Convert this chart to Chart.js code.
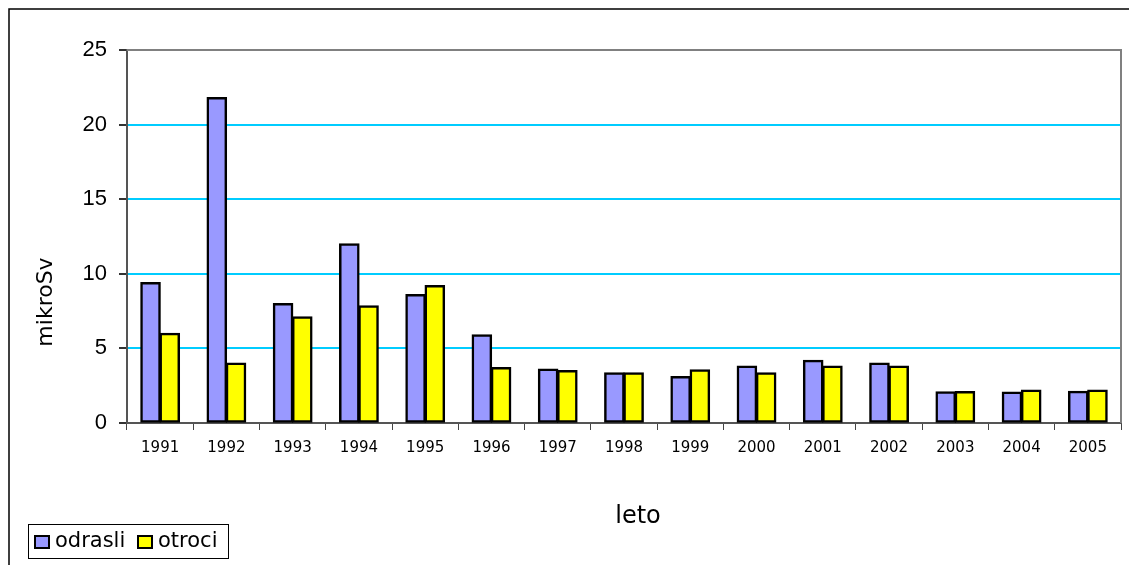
<!DOCTYPE html>
<html>
<head>
<meta charset="utf-8">
<script src="https://cdn.jsdelivr.net/npm/chart.js@4/dist/chart.umd.min.js"></script>
<style>
  html, body { margin: 0; padding: 0; background: #fff; }
  #wrap { width: 1129px; height: 565px; position: relative; }
</style>
</head>
<body>
<div id="wrap"><canvas id="chart" width="1129" height="565"></canvas></div>
<script>
// leta (kategorije)
var leta = ['1991', '1992', '1993', '1994', '1995', '1996', '1997', '1998',
            '1999', '2000', '2001', '2002', '2003', '2004', '2005'];
// doze v mikroSv, odčitano s slike
var odrasli = [9.4, 21.8, 8.0, 12.0, 8.6, 5.9, 3.6, 3.35, 3.1, 3.8, 4.2, 4.0, 2.08, 2.06, 2.12];
var otroci  = [6.0, 4.0, 7.1, 7.85, 9.2, 3.7, 3.5, 3.35, 3.55, 3.35, 3.8, 3.8, 2.1, 2.2, 2.2];
var yTicks  = [0, 5, 10, 15, 20, 25];

var barve = { odrasli: '#9999FF', otroci: '#FFFF00' };

// okvir, naslova osi in legenda
var okvir = {
  id: 'okvir',
  afterDraw: function (chart) {
    var ctx = chart.ctx, a = chart.chartArea;
    ctx.save();
    // zunanji okvir
    ctx.strokeStyle = '#000';
    ctx.lineWidth = 1.5;
    ctx.strokeRect(9, 9, 1200, 600);
    // siv okvir risalne površine (zgoraj, desno)
    ctx.strokeStyle = '#808080';
    ctx.lineWidth = 2;
    ctx.beginPath();
    ctx.moveTo(a.left, a.top);
    ctx.lineTo(a.right, a.top);
    ctx.lineTo(a.right, a.bottom);
    ctx.stroke();
    // naslov y osi
    ctx.fillStyle = '#000';
    ctx.font = '22px "DejaVu Sans"';
    ctx.textAlign = 'center';
    ctx.textBaseline = 'middle';
    ctx.translate(46, 302);
    ctx.rotate(-Math.PI / 2);
    ctx.fillText('mikroSv', 0, 0);
    ctx.setTransform(1, 0, 0, 1, 0, 0);
    // naslov x osi
    ctx.font = '24px "DejaVu Sans"';
    ctx.fillText('leto', 638, 517);
    // legenda
    ctx.fillStyle = '#fff';
    ctx.fillRect(28, 524, 201, 35);
    ctx.strokeStyle = '#000';
    ctx.lineWidth = 1;
    ctx.strokeRect(28.5, 524.5, 200, 34);
    var items = [
      { label: chart.data.datasets[0].label, color: barve.odrasli, x: 35, tx: 55 },
      { label: chart.data.datasets[1].label, color: barve.otroci, x: 138, tx: 158 }
    ];
    ctx.font = '21px "DejaVu Sans"';
    ctx.textAlign = 'left';
    items.forEach(function (it) {
      ctx.fillStyle = it.color;
      ctx.fillRect(it.x, 536, 14, 12);
      ctx.strokeStyle = '#000';
      ctx.lineWidth = 2;
      ctx.strokeRect(it.x, 536, 14, 12);
      ctx.fillStyle = '#000';
      ctx.fillText(it.label, it.tx, 542);
    });
    ctx.restore();
  }
};

var ctx = document.getElementById('chart').getContext('2d');
new Chart(ctx, {
  type: 'bar',
  data: {
    labels: leta,
    datasets: [
      { label: 'odrasli', data: odrasli, backgroundColor: barve.odrasli, borderColor: '#000', borderWidth: 2.5, inflateAmount: 0.7 },
      { label: 'otroci',  data: otroci,  backgroundColor: barve.otroci,  borderColor: '#000', borderWidth: 2.5, inflateAmount: 0.7 }
    ]
  },
  options: {
    responsive: false,
    animation: false,
    layout: { padding: { top: 50, right: 8, left: 0, bottom: 0 } },
    datasets: { bar: { categoryPercentage: 0.58, barPercentage: 1.0, borderSkipped: false } },
    plugins: {
      legend: { display: false },
      tooltip: { enabled: false },
      title: { display: false }
    },
    scales: {
      x: {
        afterFit: function (s) { s.height = 142; },
        grid: { offset: true, drawOnChartArea: false, drawTicks: true, tickLength: 7, tickColor: '#444' },
        border: { color: '#555', width: 2 },
        ticks: { color: '#000', font: { family: 'DejaVu Sans', size: 15 }, padding: 9, maxRotation: 0, autoSkip: false }
      },
      y: {
        min: 0,
        max: 25,
        afterFit: function (s) { s.width = 127; },
        afterBuildTicks: function (s) { s.ticks = yTicks.map(function (v) { return { value: v }; }); },
        grid: {
          lineWidth: 2,
          tickLength: 8,
          tickColor: '#333',
          color: function (c) {
            if (c.tick.value === 0) return 'rgba(0,0,0,0)';
            if (c.tick.value === 25) return '#808080';
            return '#00CCFF';
          }
        },
        border: { color: '#555', width: 2 },
        ticks: { color: '#000', font: { family: 'Liberation Sans', size: 22 }, padding: 12 }
      }
    }
  },
  plugins: [okvir]
});
</script>
</body>
</html>
